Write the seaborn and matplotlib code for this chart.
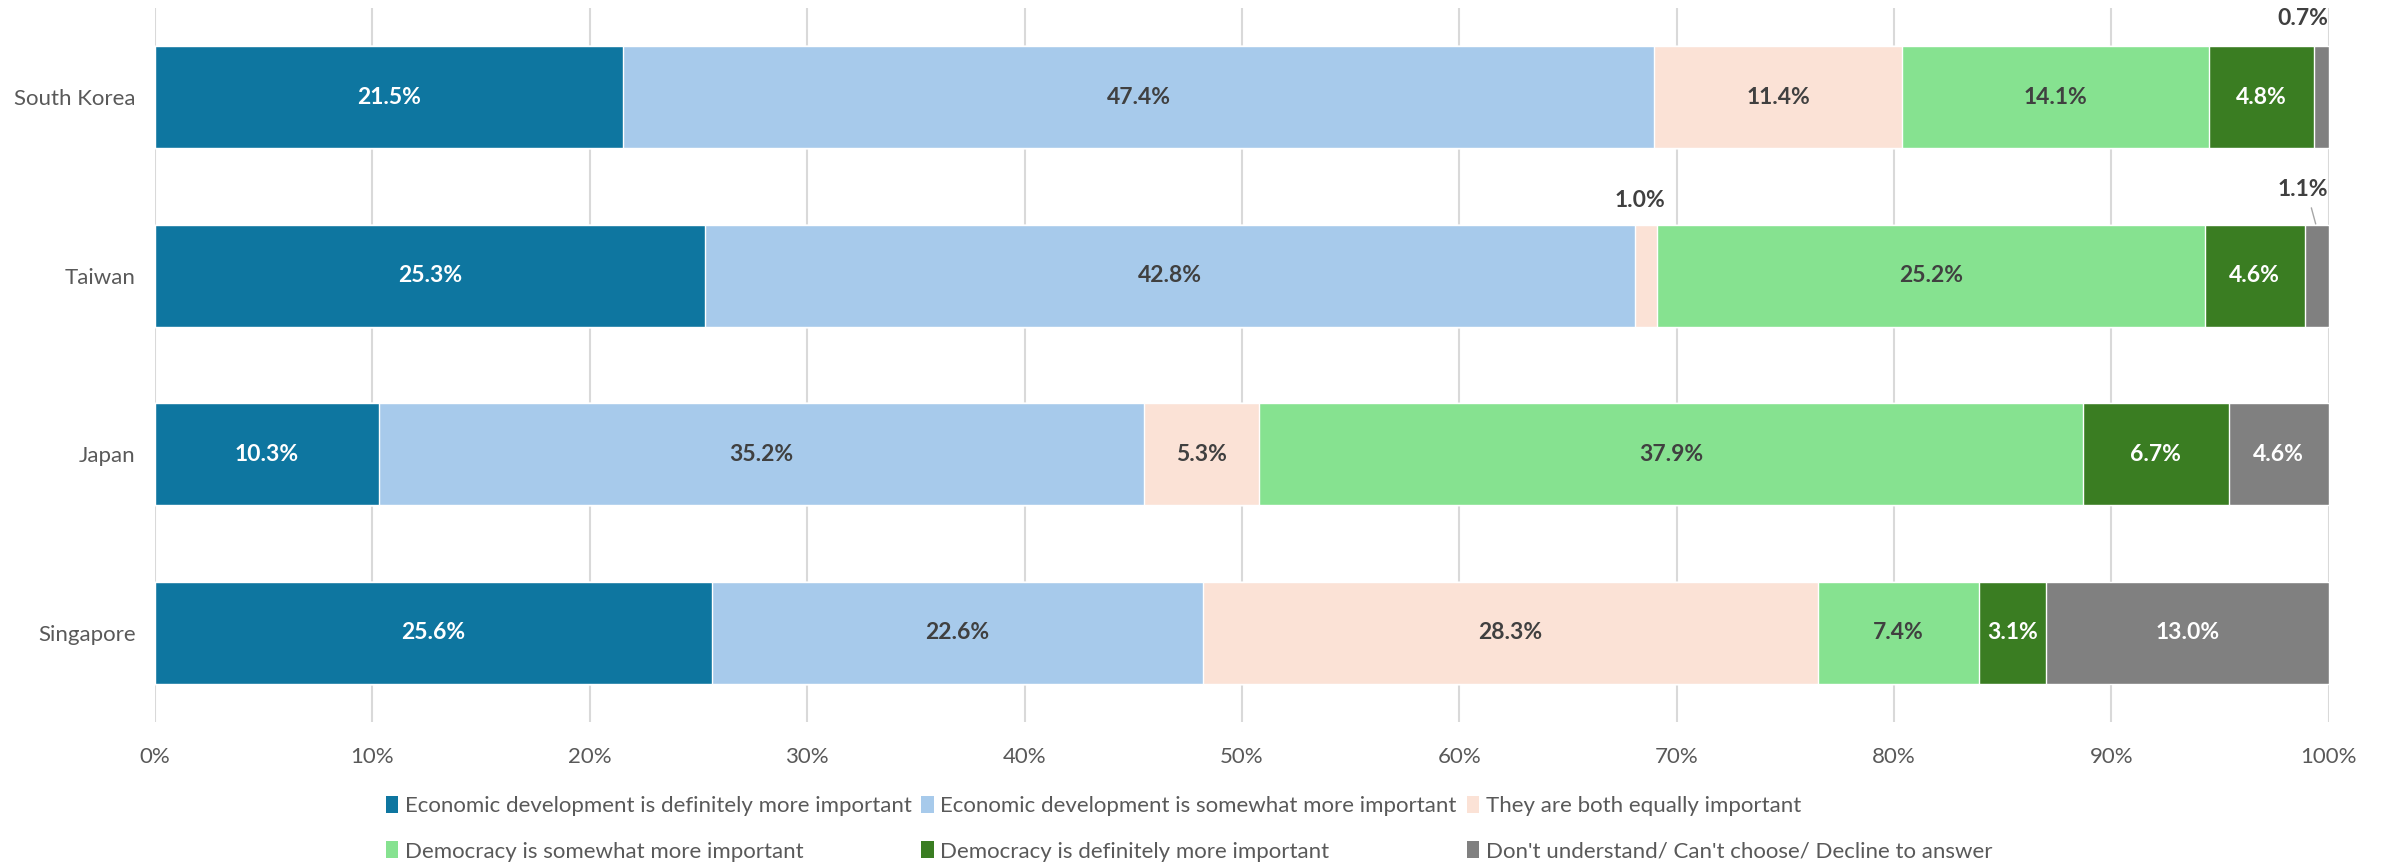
import pandas as pd
import numpy as np
import seaborn as sns
import matplotlib.pyplot as plt
from matplotlib.patches import Patch

# data (percent)
countries = ['South Korea', 'Taiwan', 'Japan', 'Singapore']
categories = ['Economic development is definitely more important',
              'Economic development is somewhat more important',
              'They are both equally important',
              'Democracy is somewhat more important',
              'Democracy is definitely more important',
              "Don't understand/ Can't choose/ Decline to answer"]
econ_definitely = [21.5, 25.3, 10.3, 25.6]
econ_somewhat = [47.4, 42.8, 35.2, 22.6]
both_equal = [11.4, 1.0, 5.3, 28.3]
demo_somewhat = [14.1, 25.2, 37.9, 7.4]
demo_definitely = [4.8, 4.6, 6.7, 3.1]
dont_know = [0.7, 1.1, 4.6, 13.0]

colors = ['#0E76A0', '#A7CAEB', '#FBE2D6', '#86E290', '#3A7D22', '#808080']
label_colors = ['white', '#404040', '#404040', '#404040', 'white', 'white']


def main():
    sns.set_style('white')
    plt.rcParams['font.family'] = ['Lato', 'DejaVu Sans']

    df = pd.DataFrame([econ_definitely, econ_somewhat, both_equal,
                       demo_somewhat, demo_definitely, dont_know],
                      index=categories, columns=countries).T
    # 100% stacked, like the source chart
    shares = df.div(df.sum(axis=1), axis=0) * 100
    cum = shares.cumsum(axis=1)

    fig = plt.figure(figsize=(23.86, 8.65), dpi=100)
    ax = fig.add_axes([0.065, 0.165, 0.911, 0.826])

    # draw longest cumulative bar first so shorter ones sit on top
    for i in range(len(categories) - 1, -1, -1):
        sns.barplot(x=cum.iloc[:, i].values, y=countries, orient='h',
                    color=colors[i], saturation=1, width=0.57, ax=ax)

    # segment labels
    outside = {('South Korea', 5): (98.8, -0.44),
               ('Taiwan', 2): (68.3, -0.42),
               ('Taiwan', 5): (98.8, -0.48)}
    for r, c in enumerate(countries):
        for i in range(len(categories)):
            val = df.iloc[r, i]
            mid = cum.iloc[r, i] - shares.iloc[r, i] / 2
            txt = f'{val:.1f}%'
            if (c, i) in outside:
                tx, dy = outside[(c, i)]
                ax.text(tx, r + dy, txt, ha='center', va='center',
                        fontsize=16.5, fontweight='bold', color='#404040')
                continue
            ax.text(mid, r, txt, ha='center', va='center', fontsize=16.5,
                    fontweight='bold', color=label_colors[i])
    # leader line for Taiwan 1.1%
    tw_mid = cum.iloc[1, 5] - shares.iloc[1, 5] / 2
    ax.plot([tw_mid - 0.25, tw_mid - 0.05], [1 - 0.38, 1 - 0.29],
            color='#A6A6A6', lw=1)

    ax.set_xlim(0, 100)
    ax.set_ylim(3.5, -0.5)
    ax.set_xticks(np.arange(0, 101, 10))
    ax.set_xticklabels([f'{t}%' for t in range(0, 101, 10)])
    ax.set_xlabel('')
    ax.set_ylabel('')
    ax.set_axisbelow(True)
    ax.xaxis.grid(True, color='#D9D9D9', lw=1.5)
    ax.yaxis.grid(False)
    sns.despine(ax=ax, left=True, bottom=True)
    ax.tick_params(axis='x', length=0, pad=18, labelsize=16, labelcolor='#595959')
    ax.tick_params(axis='y', length=0, pad=14, labelsize=16, labelcolor='#595959')

    # matplotlib fills legend columns first; reorder so rows read left to right
    order = [0, 3, 1, 4, 2, 5]
    handles = [Patch(facecolor=colors[k], edgecolor='none') for k in order]
    labels = [categories[k] for k in order]
    fig.legend(handles, labels, ncol=3, loc='upper left',
               bbox_to_anchor=(0.157, 0.093), frameon=False, fontsize=16,
               labelcolor='#595959', handlelength=0.55, handleheight=0.8,
               handletextpad=0.3, columnspacing=0.45, labelspacing=1.15,
               borderpad=0)

    fig.savefig('out.png', dpi=100)


if __name__ == '__main__':
    main()
